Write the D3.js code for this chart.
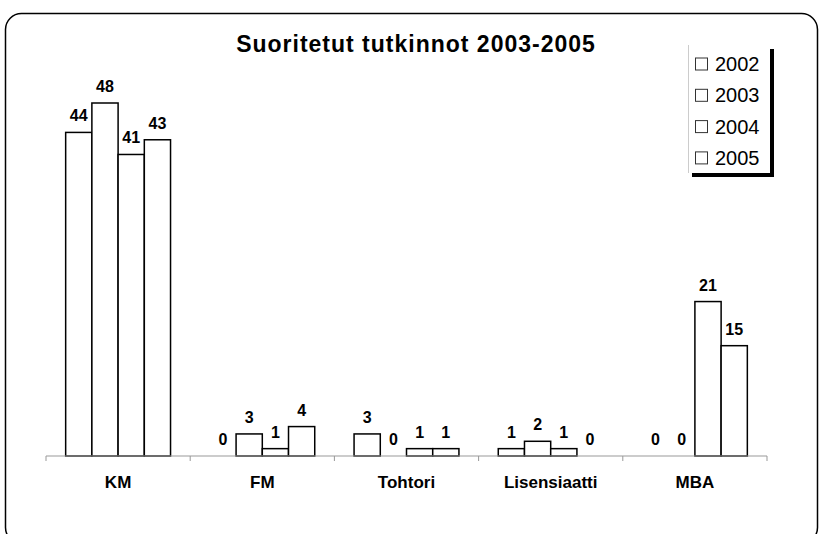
<!DOCTYPE html>
<html>
<head>
<meta charset="utf-8">
<script src="https://cdn.jsdelivr.net/npm/d3@7"></script>
<style>
  body { margin: 0; background: #fff; }
  svg text { font-family: Arial, "Liberation Sans", sans-serif; }
</style>
</head>
<body>
<div class="chart"></div>
<script>
const categories = ["KM", "FM", "Tohtori", "Lisensiaatti", "MBA"];
const years = ["2002", "2003", "2004", "2005"];
const v2002 = [44, 0, 3, 1, 0];
const v2003 = [48, 3, 0, 2, 0];
const v2004 = [41, 1, 1, 1, 21];
const v2005 = [43, 4, 1, 0, 15];
const series = [v2002, v2003, v2004, v2005];

const width = 819;
const height = 534;

const svg = d3.select('.chart')
    .append('svg')
    .attr('width', width)
    .attr('height', height);

// frame with rounded corners
svg.append('rect')
    .attr('x', 5.5).attr('y', 13.5)
    .attr('width', 812).attr('height', 530)
    .attr('rx', 16)
    .attr('fill', 'none')
    .attr('stroke', '#000')
    .attr('stroke-width', 1.5);

const x0 = d3.scaleBand().domain(categories).range([46, 767]);
const x1 = d3.scaleBand().domain(years).range([0, x0.bandwidth()]).paddingOuter(0.75);
const y = d3.scaleLinear().domain([0, 48]).range([456, 103]);

// title
svg.append('text')
    .attr('x', 416).attr('y', 52)
    .attr('text-anchor', 'middle')
    .attr('font-size', 23)
    .attr('font-weight', 'bold')
    .attr('letter-spacing', 1)
    .text('Suoritetut tutkinnot 2003-2005');

// bars
const rows = [];
categories.forEach((c, i) => {
    years.forEach((yr, j) => rows.push({cat: c, year: yr, value: series[j][i]}));
});

svg.selectAll('rect.bar')
    .data(rows)
    .enter()
    .append('rect')
    .attr('class', 'bar')
    .attr('x', d => x0(d.cat) + x1(d.year))
    .attr('y', d => y(d.value))
    .attr('width', x1.bandwidth())
    .attr('height', d => y(0) - y(d.value))
    .attr('fill', '#fff')
    .attr('stroke', '#000')
    .attr('stroke-width', 1.5)
    .attr('opacity', d => d.value > 0 ? 1 : 0);

// value labels
svg.selectAll('text.val')
    .data(rows)
    .enter()
    .append('text')
    .attr('class', 'val')
    .attr('x', d => x0(d.cat) + x1(d.year) + x1.bandwidth() / 2)
    .attr('y', d => y(d.value) - 11)
    .attr('text-anchor', 'middle')
    .attr('font-size', 16)
    .attr('font-weight', 'bold')
    .text(d => d.value);

// x axis
const axis = svg.append('g')
    .attr('transform', `translate(0,${y(0)})`);
axis.append('line')
    .attr('x1', 46).attr('x2', 767)
    .attr('stroke', '#999').attr('stroke-width', 1);
const bounds = categories.map(c => x0(c)).concat([767]);
axis.selectAll('line.tick')
    .data(bounds)
    .enter()
    .append('line')
    .attr('class', 'tick')
    .attr('x1', d => d).attr('x2', d => d)
    .attr('y1', 0).attr('y2', 5)
    .attr('stroke', '#999');
axis.selectAll('text')
    .data(categories)
    .enter()
    .append('text')
    .attr('x', d => x0(d) + x0.bandwidth() / 2)
    .attr('y', 32)
    .attr('text-anchor', 'middle')
    .attr('font-size', 17)
    .attr('font-weight', 'bold')
    .text(d => d);

// legend with shadow
const lg = svg.append('g');
lg.append('rect')
    .attr('x', 692).attr('y', 49)
    .attr('width', 82).attr('height', 128)
    .attr('fill', '#000');
lg.append('rect')
    .attr('x', 688).attr('y', 45)
    .attr('width', 82).attr('height', 128)
    .attr('fill', '#fff');
lg.append('line')
    .attr('x1', 688.5).attr('x2', 688.5)
    .attr('y1', 45).attr('y2', 173)
    .attr('stroke', '#ccc');

const item = lg.selectAll('g.item')
    .data(years)
    .enter()
    .append('g')
    .attr('class', 'item')
    .attr('transform', (d, i) => `translate(695,${64 + i * 31.3})`);
item.append('rect')
    .attr('x', 0.5).attr('y', -6)
    .attr('width', 12).attr('height', 12)
    .attr('fill', '#fff')
    .attr('stroke', '#333');
item.append('text')
    .attr('x', 20).attr('y', 7)
    .attr('font-size', 20)
    .text(d => d);
</script>
</body>
</html>
